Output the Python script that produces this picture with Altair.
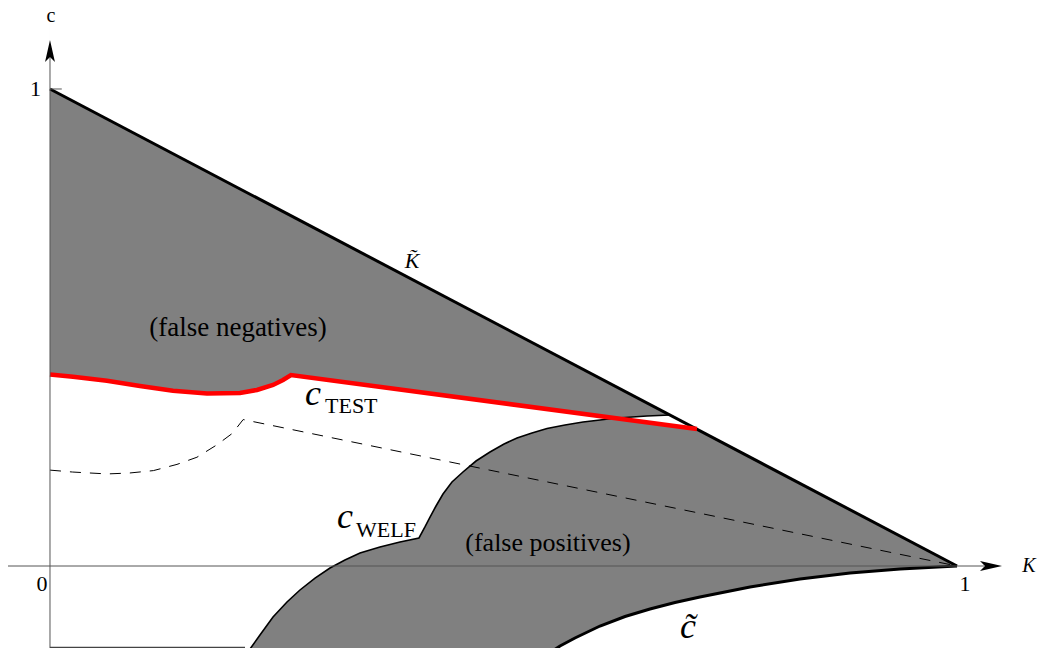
import altair as alt
import pandas as pd

# ---- plot ranges (data units) ----
K_MIN, K_MAX = -0.0463, 1.0882
C_MIN, C_MAX = -0.1719, 1.1698
W, H = 1029, 640
TOP_FILL = 1.4          # fill limits beyond the visible range (clipped)
BOTTOM_FILL = -0.3
PLOT_BOTTOM = -0.1705   # lower edge of the plotted region

# ---- curves ----
ktilde_K = [0.0, 1.0]
ktilde_c = [1.0, 0.0]

test_K = [0.0000, 0.0254, 0.0628, 0.0992, 0.1356, 0.1731, 0.2095, 0.2282, 0.2459, 0.2569, 0.2657, 0.7133]
test_c = [0.4015, 0.3969, 0.3885, 0.3774, 0.3675, 0.3616, 0.3627, 0.3690, 0.3795, 0.3899, 0.4004, 0.2872]

welf_K = [0.2150, 0.2315, 0.2459, 0.2613, 0.2756, 0.2922, 0.3087, 0.3252, 0.3418, 0.3638, 0.3859, 0.4068,
          0.4134, 0.4190, 0.4256, 0.4333, 0.4432, 0.4553, 0.4697, 0.4851, 0.5006, 0.5149, 0.5314,
          0.5480, 0.5678, 0.5877, 0.6064, 0.6220, 0.6582, 0.6836]
welf_c = [-0.1887, -0.1447, -0.1069, -0.0755, -0.0503, -0.0252, -0.0042, 0.0126, 0.0273, 0.0398, 0.0503, 0.0587,
          0.0818, 0.1027, 0.1258, 0.1509, 0.1761, 0.1971, 0.2201, 0.2390, 0.2558, 0.2683, 0.2788,
          0.2883, 0.2956, 0.3019, 0.3061, 0.3098, 0.3145, 0.3166]
CROSS = 27  # index in welf where c_WELF meets c_TEST

dash_K = [0.000, 0.025, 0.063, 0.088, 0.114, 0.140, 0.162, 0.184, 0.201, 0.213, 1.000]
dash_c = [0.201, 0.197, 0.193, 0.195, 0.200, 0.213, 0.228, 0.254, 0.278, 0.307, 0.000]

ctilde_K = [0.5458, 0.5623, 0.5788, 0.6064, 0.6340, 0.6615, 0.6891, 0.7166, 0.7718, 0.8269, 0.8820, 0.9372, 1.0]
ctilde_c = [-0.1887, -0.1677, -0.1509, -0.1258, -0.1059, -0.0901, -0.0765, -0.0650, -0.0440, -0.0273,
            -0.0147, -0.0063, 0.0]

# region boundaries assembled from the curves above
fn_K = test_K[:11] + welf_K[CROSS:]
fn_c = test_c[:11] + welf_c[CROSS:]
fp_K = welf_K[:CROSS + 1] + [test_K[-1], ktilde_K[-1]]
fp_c = welf_c[:CROSS + 1] + [test_c[-1], ktilde_c[-1]]

xs = alt.Scale(domain=[K_MIN, K_MAX], nice=False, zero=False)
ys = alt.Scale(domain=[C_MIN, C_MAX], nice=False, zero=False)


def df(K, c, base=None):
    d = pd.DataFrame({"K": K, "c": c})
    if base is not None:
        d["base"] = base
    return d


def enc(ch, with_base=False):
    e = dict(x=alt.X("K:Q", scale=xs, axis=None), y=alt.Y("c:Q", scale=ys, axis=None))
    if with_base:
        e["y2"] = alt.Y2("base:Q")
    return ch.encode(**e)


GRAY = "#808080"

fn_area = enc(alt.Chart(df(fn_K, fn_c, TOP_FILL)).mark_area(color=GRAY, opacity=1, clip=True), True)
fp_area = enc(alt.Chart(df(fp_K, fp_c, BOTTOM_FILL)).mark_area(color=GRAY, opacity=1, clip=True), True)
white_top = enc(alt.Chart(df(ktilde_K, ktilde_c, TOP_FILL)).mark_area(color="white", opacity=1, clip=True), True)
white_bot = enc(alt.Chart(df(ctilde_K, ctilde_c, BOTTOM_FILL)).mark_area(color="white", opacity=1, clip=True), True)

dash_line = enc(alt.Chart(df(dash_K, dash_c)).mark_line(color="black", strokeWidth=1, strokeDash=[11, 9], clip=True))
welf_line = enc(alt.Chart(df(welf_K, welf_c)).mark_line(color="black", strokeWidth=1.6, clip=True))
ktilde_line = enc(alt.Chart(df(ktilde_K, ktilde_c)).mark_line(color="black", strokeWidth=3, clip=True))
ctilde_line = enc(alt.Chart(df(ctilde_K, ctilde_c)).mark_line(color="black", strokeWidth=3, clip=True))
test_line = enc(alt.Chart(df(test_K, test_c)).mark_line(color="#ff0000", strokeWidth=4.5, clip=True))


def rule_h(K1, K2, c, color="#555555", width=1.0):
    return alt.Chart(pd.DataFrame({"K": [K1], "K2": [K2], "c": [c]})).mark_rule(
        color=color, strokeWidth=width).encode(
        x=alt.X("K:Q", scale=xs, axis=None), x2="K2:Q", y=alt.Y("c:Q", scale=ys, axis=None))


def rule_v(K, c1, c2, color="#555555", width=1.0):
    return alt.Chart(pd.DataFrame({"K": [K], "c": [c1], "c2": [c2]})).mark_rule(
        color=color, strokeWidth=width).encode(
        x=alt.X("K:Q", scale=xs, axis=None), y=alt.Y("c:Q", scale=ys, axis=None), y2="c2:Q")


haxis = rule_h(-0.0496, 1.03, 0.0)
vaxis = rule_v(0.0, C_MIN, 1.07)
tick1 = rule_h(0.0, 0.013, 1.0)
bottom_edge = rule_h(0.0, welf_K[0], PLOT_BOTTOM, color="#444444", width=1.2)

arrow_r = enc(alt.Chart(df([1.0375], [0.0])).mark_point(
    shape="M1,0 L-1,-0.45 L-0.55,0 L-1,0.45 Z", filled=True, color="black", opacity=1, size=484))
arrow_u = enc(alt.Chart(df([0.0], [1.0797])).mark_point(
    shape="M0,-1 L-0.45,1 L0,0.55 L0.45,1 Z", filled=True, color="black", opacity=1, size=484))

FONT = "Liberation Serif"


def label(text, K, c, size, italic=False, align="center", baseline="alphabetic"):
    kw = dict(font=FONT, fontSize=size, align=align, baseline=baseline, color="black")
    if italic:
        kw["fontStyle"] = "italic"
    return enc(alt.Chart(pd.DataFrame({"K": [K], "c": [c], "t": [text]})).mark_text(**kw)).encode(text="t:N")


labels = [
    label("1", -0.0099, 1.0, 22, align="right", baseline="middle"),
    label("0", -0.0088, -0.0377, 22, baseline="middle"),
    label("1", 1.0088, -0.0377, 22, baseline="middle"),
    label("c", 0.0011, 1.1530, 20, baseline="middle"),
    label("K", 1.0794, 0.0, 20, italic=True, baseline="middle"),
    label("(false negatives)", 0.2073, 0.499, 27, baseline="middle"),
    label("(false positives)", 0.549, 0.048, 26, baseline="middle"),
    label("K\u0303", 0.3991, 0.6247, 22, italic=True),
    label("c\u0303", 0.7034, -0.151, 36, italic=True),
    label("c", 0.2811, 0.3375, 36, italic=True, align="left"),
    label("TEST", 0.3032, 0.3208, 22, align="left"),
    label("c", 0.3164, 0.0797, 36, italic=True, align="left"),
    label("WELF", 0.3374, 0.0608, 22, align="left"),
]

chart = alt.layer(
    fn_area, fp_area, white_top, white_bot,
    dash_line, welf_line, ktilde_line, ctilde_line, test_line,
    haxis, vaxis, tick1, bottom_edge, arrow_r, arrow_u,
    *labels,
).properties(
    width=W, height=H, padding=0, autosize=alt.AutoSizeParams(type="none"),
).configure(background="white").configure_view(stroke=None)

chart.save("out.html", embed_options={"renderer": "svg", "actions": False})
